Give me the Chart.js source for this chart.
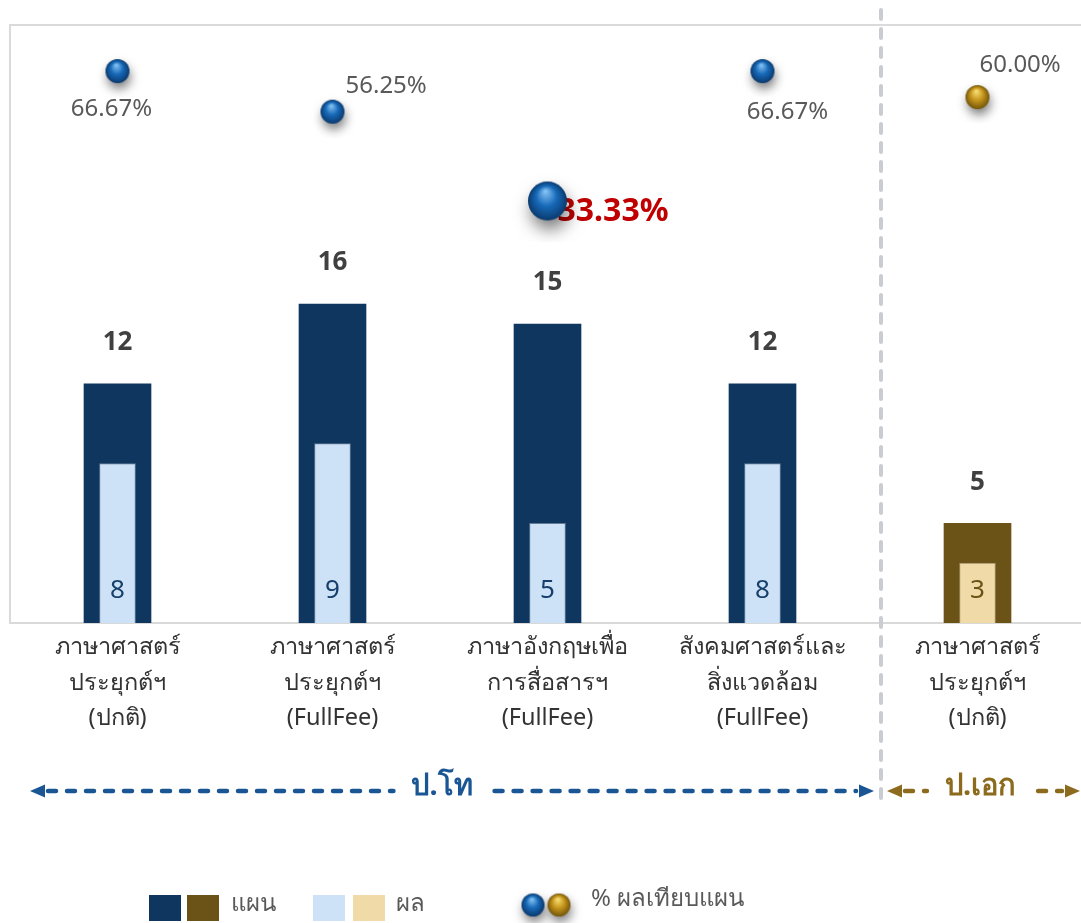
<!DOCTYPE html>
<html lang="th">
<head>
<meta charset="utf-8">
<title>แผน / ผล จำนวนนักศึกษา</title>
<script src="https://cdn.jsdelivr.net/npm/chart.js@4.4.1/dist/chart.umd.min.js"></script>
<style>
  html, body { margin: 0; padding: 0; background: #ffffff; overflow: hidden; }
  /* plot runs a few px past the right edge of the page */
  #wrap { position: relative; width: 1085px; height: 923px; }
</style>
</head>
<body>
<div id="wrap"><canvas id="chart"></canvas></div>
<script>
// Plan vs. actual intake per programme, with % of plan achieved.

const categories = [
  ['ภาษาศาสตร์', 'ประยุกต์ฯ', '(ปกติ)'],
  ['ภาษาศาสตร์', 'ประยุกต์ฯ', '(FullFee)'],
  ['ภาษาอังกฤษเพื่อ', 'การสื่อสารฯ', '(FullFee)'],
  ['สังคมศาสตร์และ', 'สิ่งแวดล้อม', '(FullFee)'],
  ['ภาษาศาสตร์', 'ประยุกต์ฯ', '(ปกติ)'],
];
const planValues = [12, 16, 15, 12, 5];
const resultValues = [8, 9, 5, 8, 3];
const percentValues = [66.67, 56.25, 33.33, 66.67, 60.00];

// degree level of each category: 0 = ป.โท, 1 = ป.เอก
const levelOf = [0, 0, 0, 0, 1];
const levelNames = ['ป.โท', 'ป.เอก'];
const legendLabels = ['แผน', 'ผล', '% ผลเทียบแผน'];

const PAGE_W = 1081;
const FONT = "'Noto Sans', 'Open Sans', sans-serif";
const PLAN_COLORS = ['#0e365f', '#6b5216'];
const RESULT_COLORS = ['#cde2f6', '#f0dba8'];
const RESULT_TEXT = ['#173f6b', '#6b5216'];
const LEVEL_COLORS = ['#1b5694', '#8c6b1e'];

// where each % label sits relative to its ball
const pctLabelPos = [
  { dx: -6, dy: 38, align: 'center' },
  { dx: 13, dy: -26, align: 'left' },
  { dx: 10, dy: 11, align: 'left' },
  { dx: 25, dy: 41, align: 'center' },
  { dx: 2, dy: -32, align: 'left' },
];

function makeSphere(r, light, mid, dark) {
  const pad = Math.ceil(r * 1.1);
  const size = Math.ceil(2 * (r + pad));
  const c = document.createElement('canvas');
  c.width = size;
  c.height = size;
  const g = c.getContext('2d');
  const cx = size / 2, cy = size / 2;
  // soft shadow below the ball
  g.save();
  g.shadowColor = 'rgba(0,0,0,0.55)';
  g.shadowBlur = r * 0.9;
  g.shadowOffsetX = r * 0.12;
  g.shadowOffsetY = r * 0.5;
  g.fillStyle = dark;
  g.beginPath();
  g.arc(cx, cy, r * 0.95, 0, Math.PI * 2);
  g.fill();
  g.restore();
  const grad = g.createRadialGradient(cx - r * 0.1, cy - r * 0.5, r * 0.05, cx, cy, r);
  grad.addColorStop(0, light);
  grad.addColorStop(0.5, mid);
  grad.addColorStop(1, dark);
  g.fillStyle = grad;
  g.beginPath();
  g.arc(cx, cy, r, 0, Math.PI * 2);
  g.fill();
  return c;
}

const BALL_COLORS = [
  ['#80c0f2', '#1769b8', '#0b3a6e'],
  ['#f6dc72', '#c6961c', '#74560a'],
];
function ballFor(level, r) {
  const [l, m, d] = BALL_COLORS[level];
  return makeSphere(r, l, m, d);
}
const isLow = percentValues.map((v) => v < 50);
const balls = percentValues.map((v, i) => ballFor(levelOf[i], isLow[i] ? 19.5 : 12));
const legendBalls = [ballFor(0, 11.5), ballFor(1, 11.5)];

function dashedH(ctx, x1, x2, y, color) {
  if (x2 <= x1) return;
  ctx.save();
  ctx.strokeStyle = color;
  ctx.lineWidth = 4.5;
  ctx.lineCap = 'round';
  ctx.setLineDash([8, 11]);
  ctx.beginPath();
  ctx.moveTo(x1, y);
  ctx.lineTo(x2, y);
  ctx.stroke();
  ctx.restore();
}

function arrowHead(ctx, x, y, dir, color) {
  ctx.save();
  ctx.fillStyle = color;
  ctx.beginPath();
  ctx.moveTo(x, y);
  ctx.lineTo(x - dir * 15, y - 6.5);
  ctx.lineTo(x - dir * 15, y + 6.5);
  ctx.closePath();
  ctx.fill();
  ctx.restore();
}

function levelArrow(ctx, x1, x2, y, label, color, shift) {
  ctx.save();
  ctx.font = 'bold 29px ' + FONT;
  const mid = (x1 + x2) / 2 + shift;
  const half = ctx.measureText(label).width / 2 + 18;
  ctx.fillStyle = color;
  ctx.textAlign = 'center';
  ctx.textBaseline = 'middle';
  ctx.fillText(label, mid, y - 4);
  ctx.restore();
  arrowHead(ctx, x1, y, -1, color);
  arrowHead(ctx, x2, y, 1, color);
  dashedH(ctx, x1 + 18, mid - half, y, color);
  dashedH(ctx, mid + half + 4, x2 - 18, y, color);
}

const annotations = {
  id: 'annotations',
  beforeDatasetsDraw(chart) {
    const { ctx, chartArea } = chart;
    // top edge of the plot frame
    ctx.save();
    ctx.strokeStyle = '#dadada';
    ctx.lineWidth = 2;
    ctx.beginPath();
    ctx.moveTo(chartArea.left, chartArea.top);
    ctx.lineTo(chart.width, chartArea.top);
    ctx.stroke();
    ctx.restore();

    // % labels sit under the balls
    const pts = chart.getDatasetMeta(2).data;
    pts.forEach((pt, i) => {
      const p = pctLabelPos[i];
      ctx.save();
      if (isLow[i]) {
        ctx.font = 'bold 32px ' + FONT;
        ctx.fillStyle = '#c00000';
      } else {
        ctx.font = '24px ' + FONT;
        ctx.fillStyle = '#595959';
      }
      ctx.textAlign = p.align;
      ctx.textBaseline = 'middle';
      ctx.fillText(percentValues[i].toFixed(2) + '%', pt.x + p.dx, pt.y + p.dy);
      ctx.restore();
    });
  },
  afterDatasetsDraw(chart) {
    const { ctx } = chart;
    const base = chart.scales.y.getPixelForValue(0);
    const plan = chart.getDatasetMeta(0).data;
    const result = chart.getDatasetMeta(1).data;
    ctx.save();
    ctx.textAlign = 'center';
    ctx.textBaseline = 'middle';
    plan.forEach((bar, i) => {
      ctx.font = 'bold 26px ' + FONT;
      ctx.fillStyle = '#404040';
      ctx.fillText(String(planValues[i]), bar.x, bar.y - 41);
    });
    result.forEach((bar, i) => {
      ctx.font = '26px ' + FONT;
      ctx.fillStyle = RESULT_TEXT[levelOf[i]];
      ctx.fillText(String(resultValues[i]), bar.x, base - 32);
    });
    ctx.restore();
  },
  afterDraw(chart) {
    const { ctx } = chart;
    const x = chart.scales.x;
    const sepX = (x.getPixelForValue(3) + x.getPixelForValue(4)) / 2 + 11;

    // dashed divider between the two degree levels
    ctx.save();
    ctx.strokeStyle = '#c9cdd2';
    ctx.lineWidth = 4;
    ctx.lineCap = 'round';
    ctx.setLineDash([9, 10]);
    ctx.beginPath();
    ctx.moveTo(sepX, 10);
    ctx.lineTo(sepX, 806);
    ctx.stroke();
    ctx.restore();

    const arrowY = 791;
    levelArrow(ctx, 30, sepX - 7, arrowY, levelNames[0], LEVEL_COLORS[0], -10);
    levelArrow(ctx, sepX + 6, PAGE_W - 1, arrowY, levelNames[1], LEVEL_COLORS[1], -3);

    // legend
    const ly = 907;
    ctx.save();
    const sq = (px, color) => {
      ctx.fillStyle = color;
      ctx.fillRect(px, ly - 12, 32, 26);
    };
    sq(149, PLAN_COLORS[0]);
    sq(187, PLAN_COLORS[1]);
    sq(313, RESULT_COLORS[0]);
    sq(353, RESULT_COLORS[1]);
    ctx.drawImage(legendBalls[0], 533 - legendBalls[0].width / 2, ly - 2 - legendBalls[0].height / 2);
    ctx.drawImage(legendBalls[1], 559 - legendBalls[1].width / 2, ly - 2 - legendBalls[1].height / 2);
    ctx.font = '24px ' + FONT;
    ctx.fillStyle = '#595959';
    ctx.textAlign = 'left';
    ctx.textBaseline = 'middle';
    ctx.fillText(legendLabels[0], 231, ly - 3);
    ctx.fillText(legendLabels[1], 396, ly - 3);
    ctx.fillText(legendLabels[2], 591, ly - 8);
    ctx.restore();
  },
};

new Chart(document.getElementById('chart'), {
  data: {
    labels: categories,
    datasets: [
      {
        type: 'bar',
        label: legendLabels[0],
        data: planValues,
        backgroundColor: levelOf.map((l) => PLAN_COLORS[l]),
        barThickness: 67,
        grouped: false,
        order: 2,
      },
      {
        type: 'bar',
        label: legendLabels[1],
        data: resultValues,
        backgroundColor: levelOf.map((l) => RESULT_COLORS[l]),
        borderColor: 'rgba(255,255,255,0.35)',
        borderWidth: 1,
        barThickness: 36,
        grouped: false,
        order: 1,
      },
      {
        type: 'line',
        label: legendLabels[2],
        data: percentValues,
        yAxisID: 'y2',
        showLine: false,
        pointStyle: (c) => balls[c.dataIndex],
        pointRadius: 12,
        clip: false,
        order: 0,
      },
    ],
  },
  options: {
    responsive: true,
    maintainAspectRatio: false,
    animation: false,
    events: [],
    layout: { autoPadding: false, padding: { left: 10, top: 25, right: 0, bottom: 0 } },
    plugins: {
      legend: { display: false },
      tooltip: { enabled: false },
    },
    scales: {
      x: {
        grid: { display: false, drawTicks: false },
        border: { color: '#d9d9d9', width: 2 },
        ticks: {
          color: '#333333',
          font: { family: FONT, size: 23.5, lineHeight: 1.5 },
          padding: 7,
          maxRotation: 0,
          autoSkip: false,
        },
        afterFit(s) { s.height = 300; },
      },
      y: {
        min: 0,
        max: 30,
        grid: { display: false },
        border: { color: '#dadada', width: 2 },
        ticks: { display: false },
        afterFit(s) { s.width = 0; },
      },
      y2: {
        position: 'right',
        display: false,
        min: -75,
        max: 78.5,
      },
    },
  },
  plugins: [annotations],
});
</script>
</body>
</html>
